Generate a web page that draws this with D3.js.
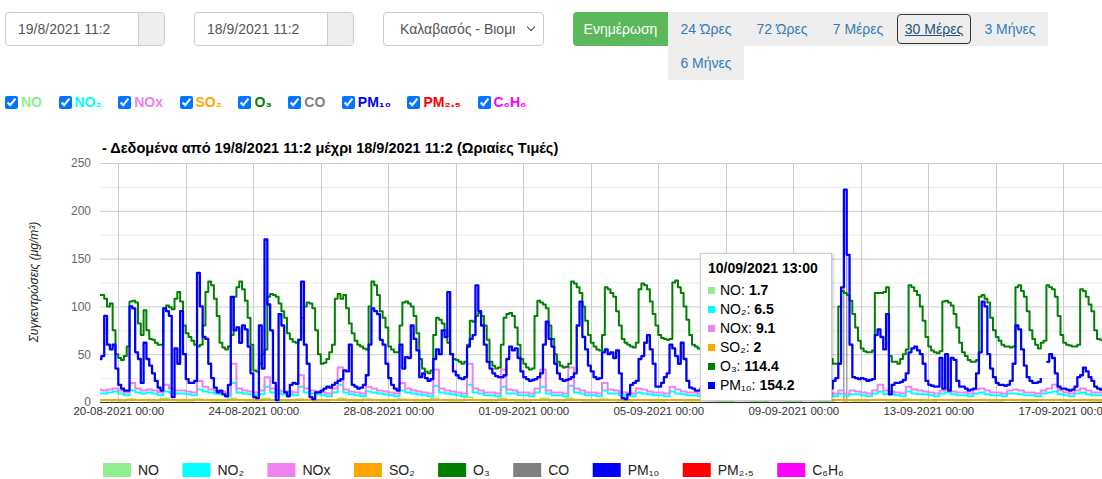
<!DOCTYPE html>
<html><head><meta charset="utf-8">
<script src="https://d3js.org/d3.v7.min.js"></script>
<style>
html,body{margin:0;padding:0}
body{width:1102px;height:479px;overflow:hidden;position:relative;background:#fff;font-family:Arial,"Liberation Sans",Helvetica,sans-serif}
.abs{position:absolute;box-sizing:border-box}
.inp{top:12px;height:34px;border:1px solid #ccc;border-radius:4px;background:#fff;font-size:14px;color:#555;line-height:32px;padding-left:12px;overflow:hidden;white-space:nowrap}
.addon{position:absolute;right:0;top:0;bottom:0;width:25px;background:#eee;border-left:1px solid #ccc}
.chev{position:absolute;right:9px;top:11px;width:5px;height:5px;border-right:1.3px solid #444;border-bottom:1.3px solid #444;transform:rotate(45deg)}
#upd{left:573px;top:12px;width:95px;height:34px;background:#5cb85c;border-radius:4px 0 0 4px;color:#fff;font-size:14px;line-height:34px;text-align:center}
#ranges{left:668px;top:12px;width:381px;display:flex;flex-wrap:wrap}
.rb{position:relative;width:76px;height:34px;line-height:34px;background:#eee;color:#337ab7;font-size:14px;text-align:center;padding:0;box-sizing:border-box;white-space:nowrap}
.rb.active{color:#23527c;text-decoration:underline}
.rb.active::after{content:"";position:absolute;left:1px;right:1px;top:2px;bottom:2px;border:1.5px solid #333;border-radius:4px}
#checks{left:5px;top:94px;display:flex;align-items:center;font-size:14px;font-weight:bold;white-space:nowrap}
#checks label{display:flex;align-items:center;margin-right:16.5px}
#checks input{margin:0 3px 0 0;width:13px;height:13px}
svg{position:absolute;left:0;top:0}
#tip{left:700px;top:253px;width:132px;height:148px;background:#fff;border:1px solid #ccc;box-shadow:1px 1px 3px rgba(0,0,0,0.25);font-size:14px;color:#000}
#tip .t{position:absolute;left:7px;top:6px;font-weight:bold;white-space:nowrap}
#tip .r{position:absolute;left:7px;white-space:nowrap;display:flex;align-items:center;height:18px}
#tip .sq{width:7px;height:7px;margin-right:5px}
</style></head><body>
<script>
// ---------------- DATA ----------------
const categories = ["NO","NO₂","NOx","SO₂","O₃","CO","PM₁₀","PM₂.₅","C₆H₆"];
const colors = ["#90ee90","#00ffff","#ee82ee","#ffa500","#008000","#808080","#0000ff","#ff0000","#ff00ff"];
const dateFrom = "19/8/2021 11:2";
const dateTo = "18/9/2021 11:2";
const stationName = "Καλαβασός - Βιομηχανική Ζώνη";
const updateLabel = "Ενημέρωση";
const rangeLabels = ["24 Ώρες","72 Ώρες","7 Μέρες","30 Μέρες","3 Μήνες","6 Μήνες"];
const activeRange = "30 Μέρες";
const chartTitle = "- Δεδομένα από 19/8/2021 11:2 μέχρι 18/9/2021 11:2 (Ωριαίες Τιμές)";
const yTitle = "Συγκεντρώσεις (μg/m³)";
const yTicks = [0,50,100,150,200,250];
const domainStart = new Date(2021,7,19,11);
const domainEnd = new Date(2021,8,18,11);

// O3, every 2 h from 19/8 10:00 (one row per day)
const o3Start = new Date(2021,7,19,10);
const o3 = [
 112,112,108,100,103,75,50,
 46,44,48,58,105,106,104,82,70,96,75,66,
 65,62,60,60,98,101,99,97,108,115,105,80,
 72,68,64,60,58,60,80,115,126,122,108,90,
 62,57,55,58,70,110,120,126,118,106,88,60,
 33,32,40,50,55,110,113,112,110,103,95,88,
 72,66,63,62,65,88,100,104,103,98,75,50,
 40,41,45,52,60,108,113,108,112,98,82,72,
 64,60,58,56,55,100,126,122,112,95,88,78,
 58,55,52,52,80,104,105,103,100,90,72,45,
 35,32,30,33,70,88,86,82,75,62,50,45,
 44,42,40,42,60,85,84,90,93,90,80,65,
 42,38,35,36,60,88,92,93,90,78,60,45,
 40,36,34,35,90,106,104,102,98,80,66,50,
 42,38,36,37,40,126,124,120,114,100,85,70,
 62,58,55,54,70,120,118,114,110,95,80,66,
 62,60,58,57,62,118,124,122,118,105,92,80,
 70,67,66,65,66,125,127,120,114,100,86,70,
 60,58,56,55,58,110,118,115,110,98,82,70,
 62,58,55,52,60,108,115,112,106,92,78,65,
 58,55,52,50,58,112,120,118,110,95,80,66,
 60,56,54,52,56,105,112,110,104,90,76,64,
 50,45,40,40,100,116,114,112,106,92,78,64,
 56,53,52,52,54,114,114,114,115,120,48,42,
 42,40,45,50,55,122,120,116,112,100,85,68,
 58,54,52,51,53,105,106,104,101,92,78,62,
 52,48,44,42,42,44,110,112,108,104,88,75,
 68,64,60,58,58,57,58,120,122,116,110,95,
 75,66,60,56,62,64,122,120,118,110,90,70,
 62,60,59,58,58,60,118,116,110,102,95,75,
 66,65,64,62,60,62
];
// PM10, every 2 h from 19/8 10:00
const pm10Start = new Date(2021,7,19,10);
const pm10 = [
 45,48,90,60,55,60,35,
 18,14,12,12,100,98,52,45,20,62,45,38,
 30,22,15,12,98,95,90,5,56,40,95,50,
 24,20,20,22,135,100,68,66,40,25,15,10,
 12,8,6,18,110,75,78,62,80,76,58,30,
 5,4,80,35,170,102,75,20,2,92,80,10,
 6,18,20,19,65,126,60,40,5,3,10,10,
 12,14,16,15,18,20,22,24,33,32,60,18,
 16,14,15,18,28,60,98,95,92,65,60,40,
 25,18,14,12,60,35,47,46,80,66,54,26,
 30,25,22,24,45,55,50,75,68,115,50,32,
 28,25,24,26,58,66,70,122,95,80,60,42,
 35,30,27,26,26,28,45,58,54,56,46,32,
 26,24,22,23,24,26,30,60,84,66,58,40,
 30,24,22,23,24,26,30,80,105,68,55,38,
 32,26,24,25,52,55,50,52,46,54,30,4,
 3,8,18,20,22,45,48,62,70,55,40,16,
 16,20,26,30,60,56,48,40,62,45,22,15,
 14,12,12,14,30,40,35,30,28,25,20,16,
 15,14,14,16,35,45,40,35,30,28,22,18,
 16,15,14,15,32,42,38,34,30,26,20,16,
 15,14,14,15,30,38,36,32,28,24,20,16,
 15,14,22,25,40,120,222,154,60,26,25,24,
 25,24,22,23,24,70,76,68,55,92,8,18,
 20,20,21,23,30,52,56,58,54,50,40,22,
 18,17,16,16,46,14,50,12,46,44,22,16,
 16,14,12,13,14,30,52,105,100,50,35,26,
 20,18,18,17,18,22,40,80,76,55,38,26,
 22,20,20,21,25,null,42,50,46,30,16,14,
 14,13,12,13,16,26,28,36,32,26,22,16,
 14,13,15,16,18,18
];
// NOx, every 4 h from 19/8 08:00
const noxStart = new Date(2021,7,19,8);
const nox = [
 13,12,13,14,
 12,10,20,14,12,13, 12,10,18,14,12,12, 11,10,22,16,13,12, 11,9,40,14,12,11,
 10,12,26,14,12,11, 11,10,28,14,12,11, 10,9,14,36,13,11, 10,9,16,14,12,11,
 10,9,20,14,12,11, 10,9,34,14,12,11, 10,9,40,14,12,10, 10,9,34,13,12,10,
 10,9,14,34,12,10, 10,9,36,14,12,10, 10,9,20,13,12,10, 10,9,14,13,11,10,
 10,9,16,13,11,10, 10,9,14,12,11,10, 10,9,14,12,11,10, 10,9,14,12,11,10,
 10,9,14,12,11,10, 10,9,12,9,12,11, 10,9,12,18,12,11, 10,9,16,13,12,11,
 10,9,12,14,11,10, 10,9,13,14,12,10, 10,9,12,13,12,10, 10,9,12,14,18,12,
 10,9,12,14,12,10,
 10,9,10
];
// NO2, every 4 h from 19/8 08:00
const no2Start = new Date(2021,7,19,8);
const no2 = [
 9,9,10,11,
 9,7,12,10,9,10, 9,7,11,10,9,9, 8,7,13,11,10,9, 8,6,20,10,9,8,
 7,8,16,10,9,8, 8,7,16,10,9,8, 7,6,10,18,10,8, 7,6,11,10,9,8,
 7,6,12,10,9,8, 7,6,17,10,9,8, 7,6,18,10,9,7, 7,6,16,9,9,7,
 7,6,10,16,9,7, 7,6,17,10,9,7, 7,6,12,9,9,7, 7,6,10,9,8,7,
 7,6,11,9,8,7, 7,6,10,8,8,7, 7,6,10,8,8,7, 7,6,10,8,8,7,
 7,6,10,8,8,7, 7,6,9,6.5,8,8, 7,6,9,11,8,8, 7,6,11,9,8,8,
 7,6,9,10,8,7, 7,6,9,10,8,7, 7,6,9,9,8,7, 7,6,9,10,11,8,
 7,6,9,10,8,7,
 7,6,7
];
// NO, every 6 h from 19/8 06:00
const noStart = new Date(2021,7,19,6);
const no = [
 1.5,1.6,1.4,
 1.2,3,1.8,1.3, 1.2,4,1.6,1.2, 1.1,3,1.7,1.2, 1.0,4,1.8,1.2,
 1.0,4,1.6,1.1, 1.0,3,1.6,1.1, 1.0,2,4,1.1, 1.0,3,1.5,1.1,
 1.0,3,1.5,1.1, 1.0,4,1.6,1.1, 1.0,5,1.6,1.1, 1.0,4,1.5,1.1,
 1.0,2,4,1.1, 1.0,4,1.6,1.1, 1.0,3,1.5,1.1, 1.0,2,1.5,1.1,
 1.0,2,1.5,1.1, 1.0,2,1.5,1.1, 1.0,2,1.5,1.1, 1.0,2,1.5,1.1,
 1.0,2,1.5,1.1, 1.0,2,1.7,1.1, 1.0,2,2.5,1.1, 1.0,3,1.6,1.1,
 1.0,2,1.6,1.1, 1.0,2,1.6,1.1, 1.0,2,1.5,1.1, 1.0,2,1.6,2,
 1.0,2,1.5,1.1,
 1.0,1.5,1.3
];
// SO2, every 12 h from 19/8 00:00
const so2Start = new Date(2021,7,19,0);
const so2 = [
 2,2, 2,2.1, 2,2, 2.1,2, 2,2, 2,2.1, 2,2, 2,2, 2,2.1, 2,2,
 2,2, 2.1,2, 2,2, 2,2.2, 2,2, 2,2, 2.1,2, 2,2, 2,2, 2,2.1,
 2,2, 2,2, 2,2, 2,2.1, 2,2, 2,2, 2,2, 2,2, 2,2, 2,2, 2,2
];
// Tooltip content
const tipTime = new Date(2021,8,10,13);
const tipNames = ["NO","NO₂","NOx","SO₂","O₃","PM₁₀"];
const tipValues = [1.7, 6.5, 9.1, 2, 114.4, 154.2];

// ---------------- CONTROLS ----------------
const body = d3.select("body");
function dateBox(left, txt){
  const b = body.append("div").attr("class","abs inp").style("left",left+"px").style("width","160px").text(txt);
  b.append("div").attr("class","addon");
}
dateBox(5, dateFrom);
dateBox(194, dateTo);
const sel = body.append("div").attr("class","abs inp").style("left","383px").style("width","161px").style("padding-left","0");
sel.append("div").style("position","absolute").style("left","16px").style("width","115px").style("overflow","hidden").text(stationName);
sel.append("div").attr("class","chev");
body.append("div").attr("id","upd").attr("class","abs").text(updateLabel);
const rg = body.append("div").attr("id","ranges").attr("class","abs");
rg.selectAll("div").data(rangeLabels).join("div")
  .attr("class", d => "rb" + (d===activeRange ? " active" : ""))
  .text(d => d);

const checks = body.append("div").attr("id","checks").attr("class","abs");
const lab = checks.selectAll("label").data(categories).join("label");
lab.append("input").attr("type","checkbox").property("checked", true);
lab.append("span").style("color",(d,i)=>colors[i]).text(d=>d);

// ---------------- CHART ----------------
const W = 1102, H = 479;
const svg = body.append("svg").attr("width",W).attr("height",H).style("font-family","Arial, 'Liberation Sans', sans-serif");
const x = d3.scaleTime().domain([domainStart, domainEnd]).range([100, 1112.5]);
const y = d3.scaleLinear().domain([0,250]).range([402,163]);
const left = x.range()[0], right = x.range()[1];

// horizontal grid
const minor = d3.range(25, 250, 50);
svg.append("g").selectAll("line").data(minor).join("line")
  .attr("x1",left).attr("x2",right).attr("y1",d=>y(d)+0.5).attr("y2",d=>y(d)+0.5)
  .attr("stroke","#ebebeb").attr("stroke-width",1);
svg.append("g").selectAll("line").data(yTicks.filter(d=>d>0)).join("line")
  .attr("x1",left).attr("x2",right).attr("y1",d=>y(d)+0.5).attr("y2",d=>y(d)+0.5)
  .attr("stroke","#cccccc").attr("stroke-width",1);
// vertical grid every 2 days, labels every 4 days
const firstDay = d3.timeDay.ceil(domainStart);
const days = d3.timeDay.range(firstDay, domainEnd);
const gridDays = days.filter((d,i)=> i%2===0);
const labelDays = days.filter((d,i)=> i%4===0);
svg.append("g").selectAll("line").data(gridDays).join("line")
  .attr("x1",d=>Math.round(x(d))+0.5).attr("x2",d=>Math.round(x(d))+0.5).attr("y1",y(250)).attr("y2",y(0))
  .attr("stroke","#cccccc").attr("stroke-width",1);

// crosshair (from the focused point down)
const cx = x(tipTime);
svg.append("g").selectAll("line").data([-1.5,1.5]).join("line")
  .attr("x1",d=>cx+d).attr("x2",d=>cx+d).attr("y1",y(tipValues[5])).attr("y2",y(0))
  .attr("stroke","#777").attr("stroke-width",1);

// baseline
svg.append("line").attr("x1",left).attr("x2",right).attr("y1",y(0)+0.5).attr("y2",y(0)+0.5)
  .attr("stroke","#333").attr("stroke-width",1);

// y axis labels
const yAxis = d3.axisLeft(y).tickValues(yTicks).tickSize(0).tickPadding(9);
const gy = svg.append("g").attr("transform",`translate(${left},0)`).call(yAxis);
gy.select(".domain").remove();
gy.selectAll("text").attr("font-size",12).attr("fill","#666").attr("font-family","Arial, 'Liberation Sans', sans-serif");

// x axis labels
const xAxis = d3.axisBottom(x).tickValues(labelDays).tickSize(0).tickPadding(5).tickFormat(d3.timeFormat("%d-%m-%Y %H:%M"));
const gx = svg.append("g").attr("transform",`translate(0,${y(0)})`).call(xAxis);
gx.select(".domain").remove();
gx.selectAll("text").attr("font-size",11.5).attr("fill","#333").attr("font-family","Arial, 'Liberation Sans', sans-serif");

// title
svg.append("text").attr("x",102).attr("y",153).attr("font-size",14.5).attr("font-weight","bold").attr("fill","#000").text(chartTitle);
// y title
svg.append("text").attr("transform",`translate(38,282) rotate(-90)`).attr("text-anchor","middle")
  .attr("font-size",12).attr("font-style","italic").attr("fill","#222").text(yTitle);

// series
svg.append("defs").append("clipPath").attr("id","clip").append("rect")
  .attr("x",left).attr("y",140).attr("width",right-left).attr("height",265);
const plot = svg.append("g").attr("clip-path","url(#clip)");
function pts(vals, start, step){ return vals.map((v,i)=>({t:d3.timeHour.offset(start,i*step), v})); }
const series = [
  {idx:0, data:pts(no,noStart,6), w:1.6},
  {idx:1, data:pts(no2,no2Start,4), w:2},
  {idx:2, data:pts(nox,noxStart,4), w:2},
  {idx:3, data:pts(so2,so2Start,12), w:2},
  {idx:4, data:pts(o3,o3Start,2), w:2},
  {idx:6, data:pts(pm10,pm10Start,2), w:2.3}
];
const line = d3.line().defined(d=>d.v!==null).x(d=>x(d.t)).y(d=>y(d.v)).curve(d3.curveStepAfter);
plot.selectAll("path").data(series).join("path")
  .attr("d",d=>line(d.data)).attr("fill","none")
  .attr("stroke",d=>colors[d.idx]).attr("stroke-width",d=>d.w).attr("stroke-linejoin","round");

// legend
const lg = svg.append("g").attr("transform","translate(103,463)");
let lx = 0;
categories.forEach((c,i)=>{
  const g = lg.append("g").attr("transform",`translate(${lx},0)`);
  g.append("rect").attr("width",28).attr("height",14).attr("fill",colors[i]);
  const t = g.append("text").attr("x",35).attr("y",12).attr("font-size",14).attr("fill","#222").text(c);
  lx += 35 + t.node().getComputedTextLength() + 23.5;
});

// tooltip
const tip = body.append("div").attr("id","tip").attr("class","abs");
tip.append("div").attr("class","t").text(d3.timeFormat("%d/%m/%Y %H:%M")(tipTime));
tipNames.forEach((n,i)=>{
  const r = tip.append("div").attr("class","r").style("top",(27+i*19)+"px");
  r.append("div").attr("class","sq").style("background",colors[categories.indexOf(n)]);
  r.append("span").text(n+": ");
  r.append("b").style("margin-left","4px").text(tipValues[i]);
});
</script>
</body></html>
